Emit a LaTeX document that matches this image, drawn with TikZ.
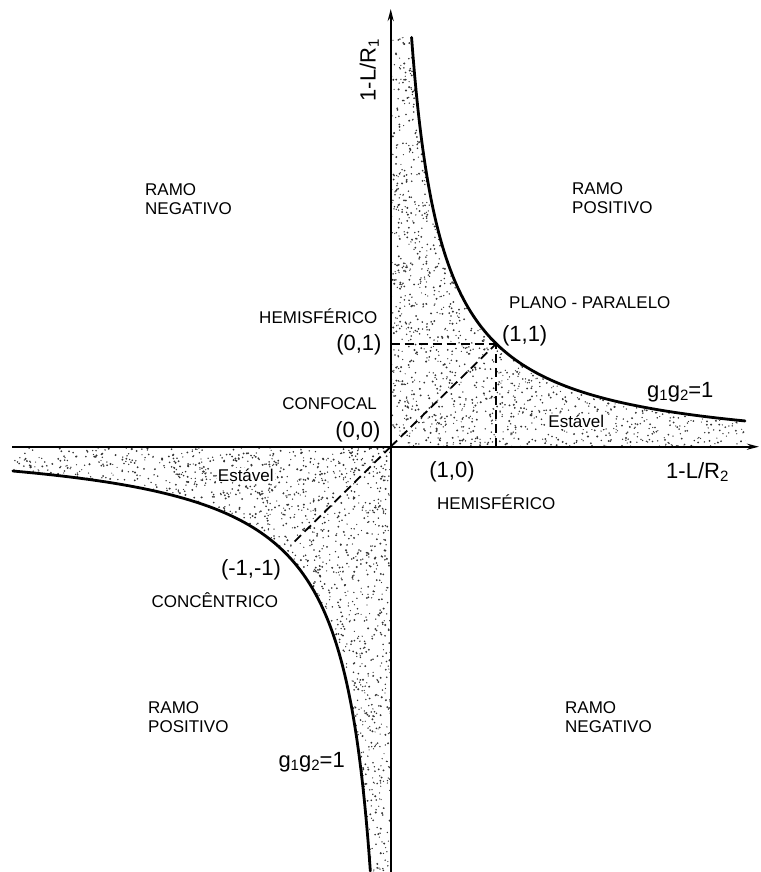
\documentclass[tikz,border=0pt]{standalone}
\usepackage{fontspec}
\setmainfont{Liberation Sans}
\usetikzlibrary{arrows.meta}
\newcommand{\lowsub}[1]{\raisebox{-0.28ex}{\fontsize{15}{15}\selectfont #1}}
\begin{document}
\begin{tikzpicture}[x=1pt,y=-1pt,
  lbl/.style={inner sep=0pt, font=\fontsize{17}{19}\selectfont, align=left},
  coordlbl/.style={inner sep=0pt, font=\fontsize{22}{24}\selectfont},
  axisline/.style={line width=2pt, -{Stealth[length=12pt,width=6pt]}},
  curveline/.style={line width=2.8pt, line cap=round},
  dashline/.style={line width=1.8pt, dash pattern=on 9pt off 5pt},
  dotfill/.style={fill=black!80}]
\useasboundingbox (0,0) rectangle (760,872);
\pgfmathsetseed{4242}
% stipple, first quadrant
\begin{scope}
\clip plot[domain=-1.5:1.3, samples=90, variable=\t] ({390.7+105.5*sqrt(1-0.095*\t*\t)*exp(\t)}, {446.7-103*sqrt(1-0.095*\t*\t)*exp(-\t)}) -- (746,446.7) -- (390.7,446.7) -- (390.7,37.4) -- cycle;
\foreach \i in {1,...,1550}{\pgfmathsetmacro\px{391+110*rnd}\pgfmathsetmacro\py{36+411*rnd}\pgfmathsetmacro\pr{0.6+0.5*rnd}\fill[dotfill] (\px,\py) circle[radius=\pr pt];}
\foreach \i in {1,...,920}{\pgfmathsetmacro\px{500+248*rnd}\pgfmathsetmacro\py{340+107*rnd}\pgfmathsetmacro\pr{0.6+0.5*rnd}\fill[dotfill] (\px,\py) circle[radius=\pr pt];}
\end{scope}
% stipple, third quadrant
\begin{scope}
\clip plot[domain=-1.53:1.36, samples=90, variable=\t] ({390.7-105.5*sqrt(1.03-0.1*\t*\t)*exp(\t)}, {446.7+103*sqrt(1.03-0.1*\t*\t)*exp(-\t)}) -- (13,446.7) -- (391,446.7) -- (391,873) -- cycle;
\foreach \i in {1,...,1500}{\pgfmathsetmacro\px{13+378*rnd}\pgfmathsetmacro\py{446+114*rnd}\pgfmathsetmacro\pr{0.6+0.5*rnd}\fill[dotfill] (\px,\py) circle[radius=\pr pt];}
\foreach \i in {1,...,1200}{\pgfmathsetmacro\px{280+111*rnd}\pgfmathsetmacro\py{560+312*rnd}\pgfmathsetmacro\pr{0.6+0.5*rnd}\fill[dotfill] (\px,\py) circle[radius=\pr pt];}
\end{scope}
% curves g1 g2 = 1
\draw[curveline] plot[domain=-1.5:1.3, samples=90, variable=\t] ({390.7+105.5*sqrt(1-0.095*\t*\t)*exp(\t)}, {446.7-103*sqrt(1-0.095*\t*\t)*exp(-\t)});
\draw[curveline] plot[domain=-1.53:1.36, samples=90, variable=\t] ({390.7-105.5*sqrt(1.03-0.1*\t*\t)*exp(\t)}, {446.7+103*sqrt(1.03-0.1*\t*\t)*exp(-\t)});
% points
\coordinate (O) at (390.7,446.7);
\coordinate (P11) at (496.2,343.7);
\coordinate (P01) at (390.7,343.7);
\coordinate (P10) at (496.2,446.7);
\coordinate (Pm) at (291,545);
\draw[dashline] (P01) -- (P11);
\draw[dashline] (P10) -- (P11);
\draw[dashline] (O) -- (P11);
\draw[dashline] (O) -- (Pm);
% axes
\coordinate (xs) at (12,446.7);
\coordinate (xe) at (759,446.7);
\coordinate (ys) at (390.7,872);
\coordinate (ye) at (390.7,9);
\draw[axisline] (xs) -- (xe);
\draw[axisline] (ys) -- (ye);
% labels
\node[coordlbl, anchor=base west, rotate=90] (ylab) at (375.5,101.7) {1-L/R\lowsub{1}};
\node[coordlbl, anchor=base west] (xlab) at (666,478.5) {1-L/R\lowsub{2}};
\node[lbl, anchor=west] (rnTL) at (145,199) {RAMO\\NEGATIVO};
\node[lbl, anchor=west] (rpTR) at (572,198) {RAMO\\POSITIVO};
\node[lbl, anchor=east] (hemU) at (377.5,316) {HEMISFÉRICO};
\node[coordlbl, anchor=east] (c01) at (381.7,344.5) {(0,1)};
\node[lbl, anchor=east] (conf) at (377,404) {CONFOCAL};
\node[coordlbl, anchor=east] (c00) at (380.7,432) {(0,0)};
\node[coordlbl] (c10) at (452,471.7) {(1,0)};
\node[lbl, anchor=west] (hemL) at (437,502) {HEMISFÉRICO};
\node[lbl, anchor=west] (plano) at (509,303) {PLANO - PARALELO};
\node[coordlbl] (c11) at (524.7,336) {(1,1)};
\node[coordlbl, anchor=base west] (gR) at (647,397) {g\lowsub{1}g\lowsub{2}=1};
\node[lbl, fill=white, inner sep=1pt] (estR) at (576.3,421.7) {Estável};
\node[lbl, fill=white, inner sep=1pt] (estL) at (245.8,475) {Estável};
\node[coordlbl] (cm1) at (251,570) {(-1,-1)};
\node[lbl, anchor=east] (conc) at (278.3,600) {CONCÊNTRICO};
\node[lbl, anchor=west] (rpBL) at (148,717) {RAMO\\POSITIVO};
\node[lbl, anchor=west] (rnBR) at (565,717) {RAMO\\NEGATIVO};
\node[coordlbl, anchor=base west] (gB) at (278.3,767) {g\lowsub{1}g\lowsub{2}=1};
\end{tikzpicture}
\end{document}
